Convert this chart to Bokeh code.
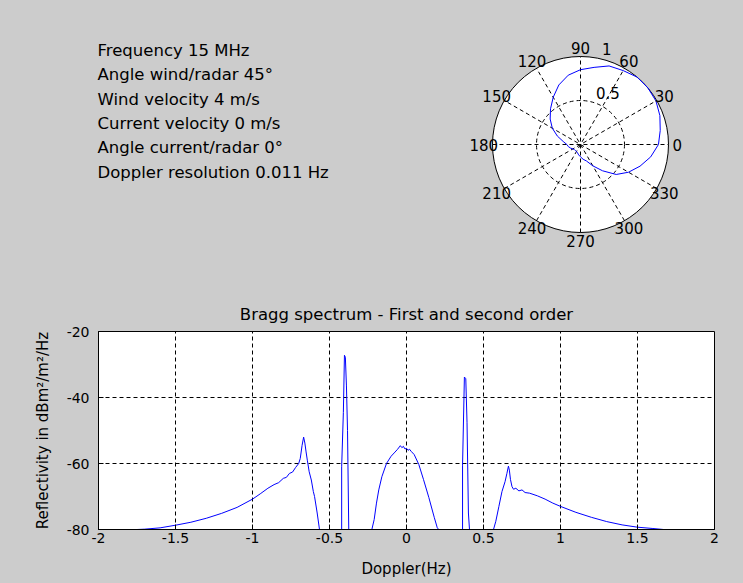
import numpy as np
from jinja2 import Template
from bokeh.plotting import figure
from bokeh.models import Range1d, FixedTicker
from bokeh.core.properties import value
from bokeh.embed import file_html
from bokeh.resources import INLINE

FONT = "DejaVu Sans"
BG = "#cccccc"
BLUE = "#0000ff"

# ---------------- data ----------------
info_lines = [
    "Frequency 15 MHz",
    "Angle wind/radar 45°",
    "Wind velocity 4 m/s",
    "Current velocity 0 m/s",
    "Angle current/radar 0°",
    "Doppler resolution 0.011 Hz",
]

polar_theta_deg = [0, 10, 20, 30, 40, 50, 60, 70, 80, 90, 100, 110, 120, 130, 140, 150, 160, 170, 180,
                   190, 200, 210, 220, 230, 240, 250, 260, 270, 280, 290, 300, 310, 320, 330, 340, 350, 360]
polar_r = [0.886, 0.92, 0.96, 0.99, 1.00, 1.00, 0.97, 0.95, 0.89, 0.85, 0.80, 0.72, 0.62, 0.53, 0.45, 0.37,
           0.28, 0.20, 0.155, 0.14, 0.12, 0.10, 0.09, 0.09, 0.09, 0.10, 0.12, 0.14, 0.17, 0.20, 0.28, 0.39,
           0.53, 0.63, 0.72, 0.81, 0.886]

spoke_deg = [0, 30, 60, 90, 120, 150]
angle_label_deg = [30, 60, 90, 120, 150, 180, 210, 240, 270, 300, 330, 360]
angle_labels = ["30", "60", "90", "120", "150", "180", "210", "240", "270", "300", "330", "0"]
ring_r = [0.5, 1.0]
ring_labels = ["0.5", "1"]

doppler = [
    -2.00, -1.75, -1.70, -1.60, -1.50, -1.40, -1.30, -1.20, -1.10, -1.00,
    -0.95, -0.90, -0.86, -0.83, -0.80, -0.78, -0.76, -0.74, -0.72, -0.70,
    -0.69, -0.678, -0.668, -0.66, -0.652, -0.644, -0.632, -0.618, -0.605, -0.597,
    -0.58, -0.565, -0.421, -0.421, -0.410, -0.403, -0.397, -0.390, -0.383, -0.375,
    -0.225, -0.21, -0.195, -0.18, -0.16, -0.13, -0.10, -0.08, -0.06, -0.04,
    -0.03, -0.02, -0.01, 0.00, 0.01, 0.02, 0.03, 0.05, 0.08, 0.11,
    0.145, 0.18, 0.20, 0.21, 0.364, 0.364, 0.376, 0.385, 0.393, 0.402,
    0.409, 0.565, 0.58, 0.60, 0.62, 0.64, 0.652, 0.662, 0.668, 0.675,
    0.685, 0.695, 0.71, 0.73, 0.75, 0.77, 0.80, 0.85, 0.90, 0.95,
    1.00, 1.10, 1.20, 1.30, 1.40, 1.50, 1.60, 1.67, 2.00,
]
reflectivity = [
    -80.0, -80.0, -79.9, -79.5, -78.7, -77.8, -76.6, -75.1, -73.3, -70.8,
    -69.2, -67.5, -66.4, -65.8, -64.5, -64.2, -63.0, -62.6, -61.2, -60.0,
    -58.5, -54.5, -52.0, -53.8, -56.5, -59.0, -62.5, -65.0, -68.5, -70.0,
    -75.0, -80.0, -80.0, -61.0, -44.5, -27.2, -27.8, -36.5, -50.0, -80.0,
    -80.0, -77.0, -72.0, -68.0, -64.0, -60.0, -57.8, -56.8, -55.8, -54.6,
    -55.2, -54.8, -55.6, -55.4, -56.0, -55.7, -56.3, -57.3, -60.3, -64.8,
    -70.3, -76.3, -79.5, -80.0, -80.0, -60.5, -33.8, -34.3, -47.5, -75.0,
    -80.0, -80.0, -77.5, -73.0, -68.5, -65.5, -63.0, -60.8, -62.0, -64.8,
    -67.0, -67.8, -67.5, -68.3, -68.0, -68.8, -69.0, -69.8, -70.8, -72.0,
    -73.0, -74.8, -76.3, -77.6, -78.6, -79.3, -79.7, -80.0, -80.0,
]

x_ticks = [-2, -1.5, -1, -0.5, 0, 0.5, 1, 1.5, 2]
x_tick_labels = ["-2", "-1.5", "-1", "-0.5", "0", "0.5", "1", "1.5", "2"]
y_ticks = [-80, -60, -40, -20]
y_tick_labels = ["-80", "-60", "-40", "-20"]

# ---------------- layout constants ----------------
W = 743
TOP_H = 288
BOT_H = 295
PX = 88.0              # pixels per polar unit
CX, CY = 580.0, 144.0  # polar centre in top-panel pixels

# ---------------- top panel: text + polar ----------------
top = figure(width=W, height=TOP_H,
             x_range=Range1d(-CX / PX, (W - CX) / PX),
             y_range=Range1d(-(TOP_H - CY) / PX, CY / PX),
             x_axis_location=None, y_axis_location=None,
             toolbar_location=None, output_backend="svg", min_border=0,
             outline_line_color=None, background_fill_color=BG, border_fill_color=BG)
top.grid.visible = False

info_x = [(97 - CX) / PX] * len(info_lines)
info_y = [(CY - (50 + 24.3 * i)) / PX for i in range(len(info_lines))]
top.text(x=info_x, y=info_y, text=info_lines, text_font=value(FONT), text_font_size="16.5px",
         text_align="left", text_baseline="alphabetic", text_color="black")

top.circle(x=[0], y=[0], radius=ring_r[-1], fill_color="white", line_color="black", line_width=1)
top.circle(x=[0], y=[0], radius=ring_r[0], fill_color=None, line_color="black", line_width=1,
           line_dash="4 3")
sp = np.radians(spoke_deg)
top.segment(x0=-np.cos(sp), y0=-np.sin(sp), x1=np.cos(sp), y1=np.sin(sp),
            line_color="black", line_width=1, line_dash="4 3")

th = np.radians(polar_theta_deg)
pr = np.array(polar_r)
top.line(x=pr * np.cos(th), y=pr * np.sin(th), line_color=BLUE, line_width=1)

al = np.radians(angle_label_deg)
top.text(x=1.1 * np.cos(al), y=1.1 * np.sin(al), text=angle_labels, text_font=value(FONT),
         text_font_size="15px", text_align="center", text_baseline="middle", text_color="black")

c82, s82 = np.cos(np.radians(82)), np.sin(np.radians(82))
rr = np.array(ring_r) + 0.025
top.text(x=rr * c82, y=rr * s82, text=ring_labels, text_font=value(FONT), text_font_size="15px",
         text_align="left", text_baseline="bottom", x_offset=9, text_color="black")

# ---------------- bottom panel: spectrum ----------------
bot = figure(width=W, height=BOT_H, x_range=Range1d(-2, 2), y_range=Range1d(-80, -20),
             toolbar_location=None, output_backend="svg",
             min_border_left=98, min_border_right=29, min_border_top=43, min_border_bottom=54,
             background_fill_color="white", border_fill_color=BG,
             outline_line_color="black", outline_line_width=1,
             title="Bragg spectrum - First and second order",
             x_axis_label="Doppler(Hz)", y_axis_label="Reflectivity in dBm²/m²/Hz")
bot.title.align = "center"
bot.title.text_font = FONT
bot.title.text_font_size = "16.5px"
bot.title.text_font_style = "normal"
bot.title.text_color = "black"
bot.title.standoff = 16

bot.xaxis.ticker = FixedTicker(ticks=x_ticks)
bot.xaxis.major_label_overrides = {float(t): s for t, s in zip(x_ticks, x_tick_labels)}
bot.yaxis.ticker = FixedTicker(ticks=y_ticks)
bot.yaxis.major_label_overrides = {float(t): s for t, s in zip(y_ticks, y_tick_labels)}
for ax in bot.axis:
    ax.major_label_text_font = FONT
    ax.major_label_text_font_size = "14px"
    ax.major_label_text_color = "black"
    ax.axis_label_text_font = FONT
    ax.axis_label_text_font_size = "15px"
    ax.axis_label_text_font_style = "normal"
    ax.axis_label_text_color = "black"
    ax.axis_line_color = "black"
    ax.major_tick_line_color = "black"
    ax.major_tick_in = 5
    ax.major_tick_out = 0
    ax.minor_tick_line_color = None
bot.xaxis.major_label_standoff = 3
bot.xaxis.axis_label_standoff = 14
bot.yaxis.major_label_standoff = 9
bot.yaxis.axis_label_standoff = 12

bot.xgrid.ticker = FixedTicker(ticks=x_ticks)
bot.ygrid.ticker = FixedTicker(ticks=y_ticks)
bot.grid.grid_line_color = "black"
bot.grid.grid_line_dash = "4 3"
bot.grid.grid_line_width = 1

bot.line(x=doppler, y=reflectivity, line_color=BLUE, line_width=1)

p = [top, bot]

tmpl = Template("""{% extends base %}
{% block preamble %}<style>html, body { margin: 0 !important; padding: 0 !important; background: #cccccc; overflow: hidden; line-height: 0; }</style>{% endblock %}""")

open("out.html", "w").write(file_html(p, INLINE, template=tmpl))
